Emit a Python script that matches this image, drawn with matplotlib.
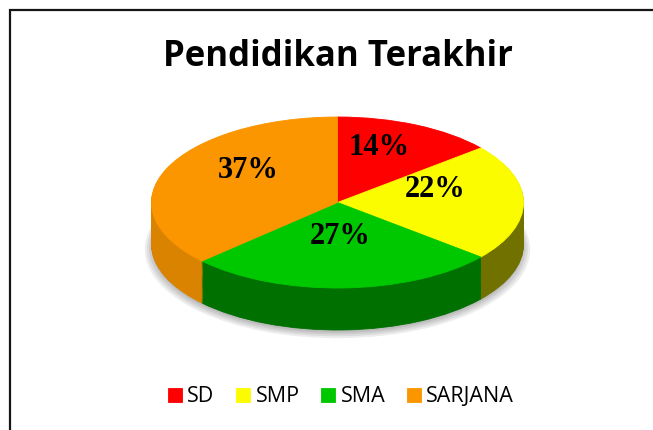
import matplotlib.pyplot as plt
from matplotlib.patches import Rectangle

categories = ["SD", "SMP", "SMA", "SARJANA"]
values = [14, 22, 27, 37]
top_colors = ["#fe0000", "#fcfc00", "#00c800", "#fc9600"]
side_colors = ["#b00000", "#717100", "#007000", "#d98300"]

W, H = 653, 430
fig = plt.figure(figsize=(W / 100, H / 100), dpi=100)
ax = fig.add_axes([0, 0, 1, 1])

# ellipse of the pie's top face, in pixels
cx, cy = 337.5, 202.5
rx, ry = 186, 85.5
depth = 42 / ry
n_layers = 44


def fill_edges(wedges):
    for w in wedges:
        w.set_edgecolor(w.get_facecolor())
        w.set_linewidth(0.6)


# soft shadow under the pie
for k in range(4):
    sw, _ = ax.pie(values, colors=["#000000"] * len(values), radius=1.0 + 0.012 * k,
                   center=(0, -depth - 0.03 - 0.01 * k), startangle=90, counterclock=False,
                   wedgeprops=dict(alpha=0.07, linewidth=0))

# side wall: the same pie stacked downwards in darker colours
for i in range(n_layers, 0, -1):
    sw, _ = ax.pie(values, colors=side_colors, center=(0, -depth * i / n_layers),
                   startangle=90, counterclock=False)
    fill_edges(sw)

# top face
wedges, texts, autotexts = ax.pie(values, colors=top_colors, startangle=90,
                                  counterclock=False, autopct="%.0f%%", pctdistance=0.55,
                                  textprops=dict(family="Liberation Serif", weight="bold",
                                                 size=22, color="black"))
fill_edges(wedges)
for t in autotexts:
    x, y = t.get_position()
    t.set_position((x * 0.95, y + 0.15))

ax.set_aspect("auto")
ax.set_xlim(-cx / rx, (W - cx) / rx)
ax.set_ylim(-(H - cy) / ry, cy / ry)
ax.axis("off")

fig.text(337.5 / W, 1 - 57 / H, "Pendidikan Terakhir", ha="center", va="center",
         family="Open Sans", weight="bold", size=25)

ax.legend(wedges, categories, loc="center", bbox_to_anchor=(341 / W, 1 - 397 / H),
          bbox_transform=fig.transFigure, ncol=4, frameon=False,
          prop=dict(family="Open Sans", size=15.5), handlelength=0.65, handleheight=0.65,
          handletextpad=0.25, columnspacing=1.0)

fig.add_artist(Rectangle((10 / W, -0.1), 1.2, (H - 9.5) / H + 0.1, transform=fig.transFigure,
                         fill=False, linewidth=1.6, edgecolor="#151515"))

fig.savefig("out.png", dpi=100)
